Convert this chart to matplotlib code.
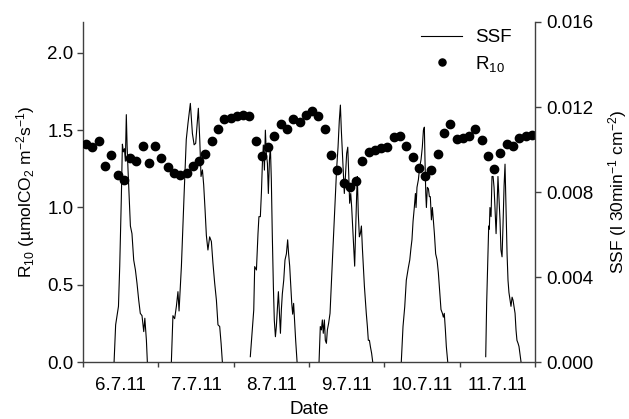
import numpy as np
import matplotlib
matplotlib.use("Agg")
import matplotlib.pyplot as plt
from matplotlib.ticker import FixedLocator, FixedFormatter, NullFormatter, FormatStrFormatter

plt.rcParams['font.family'] = ['Liberation Sans', 'DejaVu Sans']
plt.rcParams['mathtext.fontset'] = 'custom'
plt.rcParams['mathtext.rm'] = 'Liberation Sans'
plt.rcParams['mathtext.it'] = 'Liberation Sans:italic'
plt.rcParams['mathtext.bf'] = 'Liberation Sans:bold'
plt.rcParams['mathtext.default'] = 'regular'

# ---- data ----
date_labels = ["6.7.11", "7.7.11", "8.7.11", "9.7.11", "10.7.11", "11.7.11"]

# R10, every 2 h (hours 1, 3, ..., 143 since 6.7.11 00:00)
r10 = [1.41, 1.39, 1.43, 1.27, 1.34, 1.21, 1.18, 1.32, 1.30, 1.40, 1.29, 1.40,
       1.32, 1.26, 1.22, 1.21, 1.22, 1.27, 1.30, 1.345, 1.43, 1.51, 1.57, 1.58,
       1.59, 1.60, 1.59, 1.43, 1.33, 1.39, 1.465, 1.54, 1.51, 1.57, 1.555, 1.60,
       1.625, 1.59, 1.51, 1.34, 1.24, 1.155, 1.135, 1.17, 1.30, 1.36, 1.37, 1.385,
       1.39, 1.455, 1.46, 1.40, 1.325, 1.255, 1.205, 1.245, 1.345, 1.48, 1.54, 1.445,
       1.45, 1.465, 1.505, 1.435, 1.335, 1.25, 1.35, 1.41, 1.395, 1.45, 1.465, 1.47]
r10_hours = np.arange(1, 144, 2)

# SSF, daytime segments (hours since 6.7.11 00:00, value)
ssf_t1 = [9.9, 10.4, 10.85, 11.3, 11.7, 12.2, 12.55, 12.85, 13.2, 13.5, 13.8, 14.05, 14.35, 14.65,
          14.9, 15.1, 15.6, 16.15, 16.7, 17.2, 17.75, 18.25, 18.8, 19.35, 19.7, 20.2, 20.5]
ssf_v1 = [0, 0.00175, 0.00218, 0.00262, 0.00451, 0.00764, 0.01025, 0.00989, 0.01004, 0.00945,
          0.01164, 0.01018, 0.00902, 0.00800, 0.00727, 0.00640, 0.00604, 0.00480, 0.00433,
          0.00371, 0.00291, 0.00229, 0.00218, 0.00143, 0.00206, 0.00102, 0]

ssf_t2 = [28.15, 28.65, 29.2, 29.75, 30.25, 30.6, 31.35, 31.85, 32.2, 32.9, 33.45, 34.2, 34.85,
          35.4, 35.9, 36.3, 36.75, 37.2, 37.6, 38.05, 38.45, 38.9, 39.3, 39.8, 40.35, 40.9, 41.4,
          41.95, 42.5, 43.0, 43.55, 44.0, 44.4]
ssf_v2 = [0, 0.00218, 0.00204, 0.00262, 0.00331, 0.00240, 0.00451, 0.00655, 0.00785, 0.01047,
          0.01124, 0.01217, 0.01076, 0.01022, 0.01029, 0.01108, 0.01194, 0.01045, 0.00873,
          0.00904, 0.00833, 0.00713, 0.00596, 0.00527, 0.00589, 0.00567, 0.00465, 0.00371,
          0.00291, 0.00175, 0.00167, 0.00087, 0]

ssf_t3 = [53.3, 53.85, 54.4, 54.7, 55.25, 55.75, 56.05, 56.5, 56.85, 57.15, 57.45, 57.8, 58.1,
          58.4, 58.75, 59.05, 59.4, 59.7, 60.0, 60.3, 60.65, 60.95, 61.3, 61.6, 61.9, 62.25, 62.6,
          62.9, 63.2, 63.5, 63.95, 64.35, 64.8, 65.2, 65.5, 65.85, 66.15, 66.5, 66.8, 67.1, 67.4,
          67.75, 68.2]
ssf_v3 = [0.00025, 0.00135, 0.00245, 0.00449, 0.00433, 0.00604, 0.00684, 0.00684, 0.00800,
          0.00935, 0.01021, 0.00903, 0.01091, 0.00982, 0.00935, 0.00793, 0.00951, 0.01011,
          0.00858, 0.00604, 0.00356, 0.00196, 0.00119, 0.00167, 0.00247, 0.00331, 0.00225,
          0.00135, 0.00247, 0.00320, 0.00385, 0.00480, 0.00509, 0.00575, 0.00509, 0.00451,
          0.00371, 0.00276, 0.00225, 0.00276, 0.00196, 0.00102, 0]

ssf_t4 = [75.2, 75.6, 75.95, 76.25, 76.55, 76.9, 77.2, 77.55, 77.85, 78.25, 78.7, 79.1, 79.55,
          79.95, 80.4, 80.8, 81.25, 81.65, 82.0, 82.3, 82.65, 82.95, 83.25, 83.6, 84.0, 84.35,
          84.65, 84.95, 85.3, 85.6, 85.9, 86.25, 86.55, 86.85, 87.2, 87.4, 87.7, 88.05, 88.35,
          88.7, 89.0, 89.3, 89.65, 89.95, 90.25, 90.6, 90.9, 91.25, 91.55, 91.95, 92.3]
ssf_v4 = [0, 0.00167, 0.00151, 0.00198, 0.00135, 0.00198, 0.00102, 0.00088, 0.00151, 0.00182,
          0.00229, 0.00356, 0.00509, 0.00640, 0.00793, 0.00909, 0.01011, 0.01135, 0.01209,
          0.01091, 0.00982, 0.00887, 0.00793, 0.00873, 0.00982, 0.01011, 0.00887, 0.00747,
          0.00793, 0.00727, 0.00640, 0.00545, 0.00451, 0.00618, 0.00793, 0.00873, 0.00698,
          0.00589, 0.00604, 0.00640, 0.00538, 0.00451, 0.00356, 0.00291, 0.00229, 0.00167,
          0.00102, 0.00102, 0.00073, 0.00041, 0]

ssf_t5 = [101.4, 101.95, 102.5, 103.0, 103.65, 104.1, 104.5, 104.8, 105.15, 105.55, 105.9, 106.1,
          106.4, 106.85, 107.25, 107.7, 108.1, 108.45, 108.75, 108.95, 109.2, 109.4, 109.7,
          110.05, 110.35, 110.65, 111.0, 111.3, 111.6, 111.95, 112.35, 112.8, 113.2, 113.65,
          114.05, 114.5, 114.8, 115.1, 115.45, 115.75, 116.2]
ssf_v5 = [0, 0.00167, 0.00260, 0.00385, 0.00444, 0.00480, 0.00538, 0.00575, 0.00662, 0.00727,
          0.00793, 0.00727, 0.00822, 0.00858, 0.00916, 0.00953, 0.01011, 0.01091, 0.01105,
          0.00953, 0.00793, 0.00727, 0.00822, 0.00815, 0.00778, 0.00778, 0.00669, 0.00727,
          0.00669, 0.00604, 0.00509, 0.00480, 0.00422, 0.00327, 0.00247, 0.00229, 0.00211,
          0.00229, 0.00151, 0.00073, 0]

ssf_t6 = [128.3, 128.6, 128.95, 129.25, 129.45, 129.65, 130.0, 130.3, 130.65, 130.95, 131.25,
          131.6, 131.9, 132.2, 132.55, 132.85, 133.15, 133.5, 133.8, 134.15, 134.45, 134.75,
          135.1, 135.4, 135.7, 136.05, 136.35, 136.7, 137.0, 137.3, 137.65, 137.95, 138.25,
          138.6, 138.9, 139.2, 139.55]
ssf_v6 = [0.00025, 0.00276, 0.00480, 0.00640, 0.00625, 0.00727, 0.00684, 0.00873, 0.00873,
          0.00822, 0.00727, 0.00604, 0.00727, 0.00873, 0.00764, 0.00669, 0.00527, 0.00495,
          0.00640, 0.00829, 0.00931, 0.00727, 0.00509, 0.00385, 0.00327, 0.00291, 0.00262,
          0.00305, 0.00291, 0.00262, 0.00229, 0.00151, 0.00102, 0.00088, 0.00073, 0.00041, 0]

ssf_segments_t = [ssf_t1, ssf_t2, ssf_t3, ssf_t4, ssf_t5, ssf_t6]
ssf_segments_v = [ssf_v1, ssf_v2, ssf_v3, ssf_v4, ssf_v5, ssf_v6]

# join segments with gaps (night)
t_all, v_all = [], []
for t, v in zip(ssf_segments_t, ssf_segments_v):
    t_all += list(t) + [np.nan]
    v_all += list(v) + [np.nan]

# ---- figure ----
W, H = 629, 419
fig = plt.figure(figsize=(W / 100, H / 100), dpi=100)
ax = fig.add_axes([83 / W, 57 / H, 452 / W, 340 / H])
ax2 = ax.twinx()

spine_col = '#404040'
fs = 13.5

ax.plot(r10_hours, r10, 'o', color='black', ms=6.0, mec='black', label='R$_{10}$', zorder=3)
line, = ax2.plot(t_all, v_all, '-', color='black', lw=0.8, label='SSF')

ax.set_xlim(0, 144)
ax.set_ylim(0, 2.2)
ax2.set_ylim(0, 0.016)

ax.yaxis.set_major_locator(FixedLocator([0.0, 0.5, 1.0, 1.5, 2.0]))
ax.yaxis.set_major_formatter(FormatStrFormatter('%.1f'))
ax2.yaxis.set_major_locator(FixedLocator([0.0, 0.004, 0.008, 0.012, 0.016]))
ax2.yaxis.set_major_formatter(FormatStrFormatter('%.3f'))

day_bounds = np.arange(0, 145, 24)
ax.xaxis.set_major_locator(FixedLocator(day_bounds))
ax.xaxis.set_major_formatter(NullFormatter())
ax.xaxis.set_minor_locator(FixedLocator(day_bounds[:-1] + 12))
ax.xaxis.set_minor_formatter(FixedFormatter(date_labels))

for a in (ax, ax2):
    a.spines['top'].set_visible(False)
ax.spines['right'].set_visible(False)
ax2.spines['left'].set_visible(False)
ax2.spines['bottom'].set_visible(False)
for a in (ax, ax2):
    for s in a.spines.values():
        s.set_color(spine_col)
        s.set_linewidth(1.0)

ax.tick_params(axis='y', which='major', direction='out', length=4.3, width=1.0,
               color=spine_col, labelsize=fs, pad=2.5)
ax2.tick_params(axis='y', which='major', direction='out', length=4.0, width=1.0,
                color=spine_col, labelsize=fs, pad=4.0)
ax.tick_params(axis='x', which='major', direction='out', length=3.8, width=1.0, color=spine_col)
ax.tick_params(axis='x', which='minor', length=0, labelsize=fs, pad=10.5)

ax.set_xlabel('Date', fontsize=fs, labelpad=5.5)
ax.set_ylabel('R$_{10}$ (µmolCO$_2$ m$^{-2}$s$^{-1}$)', fontsize=12.5, labelpad=7.5)
ax2.set_ylabel('SSF (l 30min$^{-1}$ cm$^{-2}$)', fontsize=12.5, labelpad=9.5)

h1, l1 = ax2.get_legend_handles_labels()
h2, l2 = ax.get_legend_handles_labels()
leg = ax2.legend(h1 + h2, l1 + l2, loc='upper right', bbox_to_anchor=(0.949, 0.979),
                 frameon=False, fontsize=fs, handlelength=2.2, handletextpad=0.7,
                 labelspacing=0.41, borderpad=0, borderaxespad=0, numpoints=1,
                 markerscale=0.85)

fig.savefig('out.png', dpi=100)
